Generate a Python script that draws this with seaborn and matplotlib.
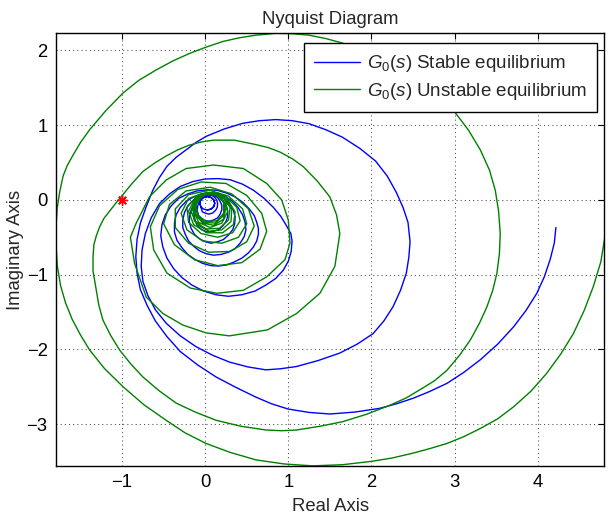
import matplotlib
matplotlib.use("Agg")
import matplotlib.pyplot as plt
import pandas as pd
import seaborn as sns

# Nyquist locus of G0(s), stable equilibrium (real part, imaginary part)
blue_re = [
    4.22, 4.20, 4.15, 4.08, 3.99, 3.86, 3.71, 3.52, 3.31, 3.11, 2.91, 2.70, 2.50, 2.30,
    2.10, 1.80, 1.50, 1.25, 1.00, 0.80, 0.61, 0.37, 0.13, -0.09, -0.30, -0.46, -0.60,
    -0.70, -0.78, -0.82, -0.835, -0.82, -0.78, -0.71, -0.63, -0.55, -0.46, -0.35, -0.23,
    -0.11, 0.01, 0.23, 0.45, 0.65, 0.85, 1.05, 1.25, 1.45, 1.65, 1.86, 2.05, 2.19, 2.30,
    2.38, 2.44, 2.465,
    2.45, 2.42, 2.35, 2.26, 2.15, 2.02, 1.83, 1.62, 1.36, 1.10, 0.91, 0.73, 0.51, 0.29,
    0.09, -0.11, -0.30, -0.47, -0.60, -0.69, -0.75, -0.77, -0.76, -0.72, -0.65, -0.55,
    -0.43, -0.30, -0.15, 0.00, 0.15, 0.30, 0.45, 0.58, 0.71, 0.82, 0.91, 0.98, 1.03, 1.045,
    1.035, 1.00, 0.94, 0.85, 0.73, 0.60, 0.44, 0.28,
    0.13, -0.02, -0.16, -0.28, -0.38, -0.46, -0.51, -0.535, -0.52, -0.48, -0.41, -0.32,
    -0.21, -0.10, 0.02, 0.14, 0.26, 0.36, 0.45, 0.53, 0.59, 0.62, 0.64, 0.64, 0.62, 0.58,
    0.52, 0.44, 0.35, 0.26, 0.16, 0.07,
    -0.03, -0.12, -0.21, -0.28, -0.34, -0.37, -0.37, -0.35, -0.30, -0.23, -0.14, -0.05,
    0.05, 0.15, 0.25, 0.33, 0.40, 0.45, 0.48, 0.49, 0.47, 0.42, 0.36, 0.28, 0.19, 0.10,
    0.01, -0.07, -0.14, -0.20, -0.24, -0.27, -0.27, -0.25, -0.21, -0.15, -0.07, 0.01,
    0.09, 0.17, 0.24, 0.30, 0.34, 0.36, 0.355, 0.33, 0.28, 0.22, 0.15, 0.07,
    0.00, -0.07, -0.13, -0.17, -0.19, -0.19, -0.17, -0.14, -0.09, -0.03, 0.04, 0.10,
    0.16, 0.21, 0.25, 0.27, 0.27, 0.25, 0.21, 0.16, 0.10, 0.03,
    -0.04, -0.09, -0.12, -0.13, -0.125, -0.11, -0.075, -0.03, 0.02, 0.07, 0.12, 0.15,
    0.18, 0.20, 0.20, 0.18, 0.15, 0.10, 0.05, 0.00,
    -0.05, -0.08, -0.095, -0.09, -0.07, -0.045, -0.005, 0.035, 0.08, 0.115, 0.14, 0.15,
    0.145, 0.125, 0.09, 0.045, 0.005, -0.035,
    -0.053, -0.065, -0.053, -0.020, 0.025, 0.070, 0.103, 0.115, 0.103, 0.070, 0.025,
    -0.020, -0.053, -0.065, -0.053, -0.020, 0.025, 0.070, 0.103, 0.115, 0.103, 0.070, 0.025,
]
blue_im = [
    -0.37, -0.58, -0.80, -1.03, -1.25, -1.48, -1.70, -1.93, -2.14, -2.31, -2.455, -2.565,
    -2.656, -2.73, -2.79, -2.84, -2.866, -2.845, -2.80, -2.73, -2.64, -2.51, -2.37, -2.21,
    -2.03, -1.83, -1.62, -1.41, -1.20, -0.98, -0.76, -0.53, -0.31, -0.09, 0.13, 0.30, 0.45,
    0.57, 0.67, 0.77, 0.85, 0.95, 1.025, 1.06, 1.075, 1.06, 1.02, 0.94, 0.84, 0.69, 0.52,
    0.32, 0.10, -0.10, -0.30, -0.56,
    -0.77, -0.98, -1.21, -1.43, -1.62, -1.79, -1.93, -2.05, -2.15, -2.23, -2.26, -2.275,
    -2.235, -2.17, -2.08, -1.965, -1.82, -1.65, -1.47, -1.28, -1.09, -0.89, -0.67, -0.45,
    -0.24, -0.05, 0.08, 0.18, 0.245, 0.28, 0.285, 0.27, 0.21, 0.13, 0.02, -0.10, -0.22,
    -0.35, -0.45, -0.55, -0.69, -0.82, -0.94, -1.05, -1.14, -1.22, -1.27, -1.29,
    -1.27, -1.22, -1.14, -1.04, -0.92, -0.78, -0.63, -0.48, -0.33, -0.20, -0.08, 0.02,
    0.08, 0.12, 0.135, 0.13, 0.09, 0.04, -0.03, -0.12, -0.21, -0.30, -0.38, -0.46, -0.55,
    -0.63, -0.71, -0.78, -0.83, -0.87, -0.885, -0.88,
    -0.85, -0.80, -0.73, -0.64, -0.54, -0.43, -0.31, -0.20, -0.10, -0.02, 0.04, 0.08,
    0.095, 0.09, 0.04, -0.02, -0.11, -0.20, -0.30, -0.40, -0.49, -0.58, -0.65, -0.70,
    -0.73, -0.74,
    -0.72, -0.68, -0.62, -0.55, -0.46, -0.37, -0.27, -0.17, -0.08, -0.01, 0.05, 0.08,
    0.08, 0.06, 0.01, -0.06, -0.14, -0.23, -0.32, -0.40, -0.47, -0.53, -0.56, -0.58,
    -0.56, -0.52, -0.46, -0.38, -0.30, -0.22, -0.14, -0.06, 0.01, 0.06, 0.08, 0.08,
    0.05, 0.00, -0.07, -0.14, -0.22, -0.29, -0.35, -0.40, -0.42, -0.43,
    -0.40, -0.35, -0.28, -0.21, -0.13, -0.06, 0.005, 0.055, 0.07, 0.075, 0.055, 0.03,
    -0.02, -0.07, -0.13, -0.19, -0.24, -0.27, -0.285, -0.28,
    -0.25, -0.21, -0.145, -0.08, -0.02, 0.03, 0.058, 0.068, 0.06, 0.035, -0.005, -0.05,
    -0.10, -0.14, -0.175, -0.19, -0.18, -0.16,
    -0.09, -0.045, 0.0, 0.033, 0.045, 0.033, 0.0, -0.045, -0.09, -0.123, -0.135,
    -0.123, -0.09, -0.045, 0.0, 0.033, 0.045, 0.033, 0.0, -0.045, -0.09, -0.123, -0.135,
]

# Nyquist locus of G0(s), unstable equilibrium (real part, imaginary part)
green_re = [
    4.86, 4.85, 4.84, 4.83, 4.81, 4.76, 4.67, 4.56, 4.43, 4.28, 4.11, 3.92, 3.71, 3.52,
    3.31, 3.11, 2.91, 2.70, 2.50, 2.25, 2.00, 1.65, 1.29, 0.95, 0.61, 0.30, 0.01, -0.24,
    -0.47, -0.74, -0.99, -1.21, -1.39, -1.50, -1.60, -1.68, -1.74, -1.78, -1.795, -1.795,
    -1.78, -1.75, -1.71, -1.66, -1.59, -1.50, -1.39, -1.20, -0.99, -0.80, -0.59, -0.39,
    -0.19, 0.01, 0.21, 0.41, 0.61, 0.85, 1.05, 1.25, 1.45, 1.65, 1.88, 2.10, 2.30, 2.50,
    2.66, 2.80, 3.00, 3.17, 3.31, 3.42, 3.49, 3.53, 3.55,
    3.54, 3.51, 3.46, 3.39, 3.30, 3.19, 3.06, 2.91, 2.76, 2.60, 2.42, 2.22, 1.94, 1.65,
    1.38, 1.10, 0.92, 0.73, 0.43, 0.13, -0.12, -0.35, -0.56, -0.75, -0.90, -1.03, -1.14,
    -1.23, -1.28, -1.31, -1.35, -1.35, -1.34, -1.31, -1.27, -1.22, -1.15, -1.08, -1.01,
    -0.88, -0.75, -0.60, -0.45, -0.33, -0.20, -0.05, 0.10, 0.35, 0.61, 0.76, 0.90, 1.05,
    1.18, 1.35, 1.50, 1.58, 1.62,
    1.56, 1.38, 1.10, 0.75, 0.29, 0.01, -0.27, -0.51, -0.71, -0.85, -0.90, -0.83, -0.75,
    -0.67, -0.47, -0.23, 0.10, 0.46, 0.74, 0.92, 1.00, 1.02,
    0.96, 0.74, 0.46, 0.14, -0.18, -0.46, -0.62, -0.66, -0.55, -0.33, -0.05, 0.25, 0.50,
    0.68, 0.74,
    0.66, 0.44, 0.15, -0.13, -0.37, -0.50, -0.43, -0.23, 0.06, 0.32, 0.52, 0.59,
    0.50, 0.30, 0.04, -0.20, -0.36, -0.36, -0.20, 0.05, 0.28, 0.45, 0.50,
    0.40, 0.20, -0.03, -0.22, -0.29, -0.20, 0.02, 0.24, 0.38, 0.42,
    0.33, 0.15, -0.05, -0.20, -0.22, -0.10, 0.10, 0.27, 0.36, 0.34,
    0.21, 0.02, -0.14, -0.20, -0.12, 0.05, 0.22, 0.32, 0.31, 0.20,
    0.05, -0.10, -0.17, -0.11, 0.05, 0.21, 0.30, 0.28, 0.17,
    0.01, -0.13, -0.15, -0.06, 0.10, 0.24, 0.27, 0.20, 0.06,
    -0.08, -0.14, -0.09, 0.05, 0.19, 0.25, 0.22, 0.10, -0.03,
    -0.12, -0.11, 0.00, 0.15, 0.23, 0.22, 0.12, -0.01, -0.11,
    -0.12, -0.03, 0.12, 0.22, 0.23, 0.14, 0.01, -0.09, -0.11, -0.03,
]
green_im = [
    0.20, 0.00, -0.15, -0.32, -0.49, -0.83, -1.16, -1.48, -1.79, -2.06, -2.32, -2.56,
    -2.77, -2.93, -3.06, -3.17, -3.26, -3.33, -3.39, -3.455, -3.50, -3.545, -3.56, -3.535,
    -3.48, -3.38, -3.26, -3.12, -2.95, -2.74, -2.50, -2.26, -2.01, -1.81, -1.60, -1.38,
    -1.15, -0.88, -0.60, -0.35, -0.10, 0.11, 0.32, 0.46, 0.60, 0.77, 0.94, 1.19, 1.43,
    1.60, 1.74, 1.86, 1.96, 2.045, 2.12, 2.17, 2.205, 2.23, 2.225, 2.205, 2.16, 2.10,
    2.00, 1.88, 1.76, 1.62, 1.50, 1.38, 1.18, 0.93, 0.67, 0.40, 0.13, -0.15, -0.45,
    -0.72, -0.98, -1.21, -1.43, -1.65, -1.875, -2.08, -2.28, -2.42, -2.53, -2.65, -2.75,
    -2.87, -2.97, -3.03, -3.08, -3.09, -3.08, -3.03, -2.95, -2.84, -2.72, -2.55, -2.37,
    -2.19, -2.01, -1.81, -1.61, -1.41, -1.21, -0.95, -0.77, -0.60, -0.48, -0.36, -0.25,
    -0.15, -0.05, 0.045, 0.22, 0.38, 0.50, 0.60, 0.67, 0.73, 0.775, 0.80, 0.80, 0.74,
    0.70, 0.64, 0.55, 0.445, 0.25, 0.04, -0.20, -0.45,
    -0.89, -1.25, -1.52, -1.74, -1.82, -1.78, -1.675, -1.52, -1.30, -0.85, -0.50, -0.31,
    -0.135, 0.043, 0.266, 0.42, 0.467, 0.42, 0.22, 0.00, -0.27, -0.58,
    -0.80, -1.03, -1.21, -1.25, -1.18, -0.98, -0.67, -0.36, -0.08, 0.14, 0.24, 0.22, 0.06,
    -0.18, -0.42,
    -0.66, -0.84, -0.88, -0.80, -0.60, -0.32, -0.06, 0.12, 0.17, 0.08, -0.12, -0.35,
    -0.56, -0.69, -0.70, -0.58, -0.37, -0.12, 0.07, 0.13, 0.05, -0.12, -0.32,
    -0.50, -0.58, -0.55, -0.40, -0.18, 0.02, 0.10, 0.05, -0.10, -0.28,
    -0.44, -0.50, -0.45, -0.30, -0.10, 0.05, 0.09, 0.00, -0.16, -0.33,
    -0.44, -0.44, -0.33, -0.15, 0.02, 0.08, 0.03, -0.12, -0.29, -0.40,
    -0.42, -0.33, -0.16, 0.02, 0.10, 0.05, -0.10, -0.27, -0.38,
    -0.39, -0.28, -0.10, 0.06, 0.10, 0.01, -0.16, -0.31, -0.37,
    -0.30, -0.14, 0.03, 0.10, 0.05, -0.10, -0.26, -0.34, -0.31,
    -0.19, -0.03, 0.08, 0.07, -0.05, -0.21, -0.31, -0.30, -0.21,
    -0.06, 0.07, 0.09, -0.02, -0.17, -0.28, -0.29, -0.20, -0.06, 0.07,
]

# critical point -1 + 0j
critical_re = [-1.0]
critical_im = [0.0]

series_labels = [r"$G_0(s)$ Stable equilibrium", r"$G_0(s)$ Unstable equilibrium"]
series_colors = ["#0000ff", "#008000"]
x_ticks = [-1, 0, 1, 2, 3, 4]
y_ticks = [-3, -2, -1, 0, 1, 2]
x_range = (-1.795, 4.80)
y_range = (-3.562, 2.23)

sns.set_style("white")
plt.rcParams["font.family"] = ["Liberation Sans", "DejaVu Sans"]
plt.rcParams["mathtext.fontset"] = "custom"
plt.rcParams["mathtext.rm"] = "Liberation Sans"
plt.rcParams["mathtext.it"] = "Liberation Sans:italic"
plt.rcParams["mathtext.bf"] = "Liberation Sans:bold"

fs = 13.3

fig = plt.figure(figsize=(6.09, 5.23), dpi=100)
ax = fig.add_axes([0.092, 0.109, 0.900, 0.8273])

frames = [
    pd.DataFrame({"re": blue_re, "im": blue_im, "curve": series_labels[0]}),
    pd.DataFrame({"re": green_re, "im": green_im, "curve": series_labels[1]}),
]
df = pd.concat(frames, ignore_index=True)

sns.lineplot(data=df, x="re", y="im", hue="curve", hue_order=series_labels,
             palette=series_colors, sort=False, estimator=None, linewidth=1.0,
             ax=ax, legend=False)

ax.plot(critical_re, critical_im, linestyle="none", marker=(8, 2, 0),
        markersize=7.5, markeredgewidth=1.0, color="#ff0000", zorder=5)

ax.set_xlim(*x_range)
ax.set_ylim(*y_range)
ax.set_xticks(x_ticks)
ax.set_yticks(y_ticks)

ax.grid(True, color="0.3", linestyle=(0, (1, 3)), linewidth=0.75)
ax.set_axisbelow(True)
for side in ax.spines.values():
    side.set_visible(True)
    side.set_color("black")
    side.set_linewidth(1.0)

ax.tick_params(axis="both", which="both", direction="in", length=4, width=0.8,
               top=True, right=True, labelsize=fs, colors="black")
ax.tick_params(axis="x", pad=6)
ax.tick_params(axis="y", pad=6)

ax.set_title("Nyquist Diagram", fontsize=fs, pad=7)
ax.set_xlabel("Real Axis", fontsize=fs, labelpad=5)
ax.set_ylabel("Imaginary Axis", fontsize=fs, labelpad=2)

handles = [plt.Line2D([], [], color=c, linewidth=1.0) for c in series_colors]
leg = ax.legend(handles, series_labels, loc="upper right",
                bbox_to_anchor=(0.987, 0.978), borderaxespad=0.0,
                fontsize=13.5, frameon=True, fancybox=False, framealpha=1.0,
                edgecolor="black", handlelength=2.45, handletextpad=0.35,
                labelspacing=0.35, borderpad=0.55)
leg.get_frame().set_linewidth(1.0)

fig.savefig("out.png", dpi=100)
